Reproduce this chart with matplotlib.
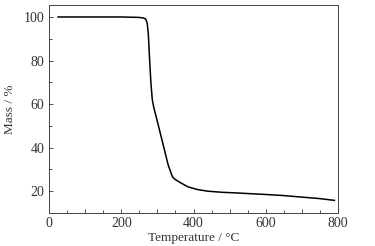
import matplotlib
matplotlib.use("Agg")
import matplotlib.pyplot as plt
from matplotlib.ticker import MultipleLocator, FuncFormatter

temperature = [25, 100, 200, 250, 262, 268, 272, 275, 278, 282, 286, 290, 300, 315, 330, 342, 350, 365, 385, 410, 440, 480, 520, 600, 650, 700, 750, 790]
mass = [100, 100, 100, 99.8, 99.5, 99.0, 97.0, 92.0, 82.0, 70.0, 62.0, 58.5, 52.0, 42.0, 32.0, 26.5, 25.3, 23.8, 22.0, 20.8, 20.0, 19.5, 19.2, 18.5, 18.0, 17.3, 16.6, 15.8]

plt.rcParams['font.family'] = ['Liberation Serif', 'DejaVu Serif']
fig = plt.figure(figsize=(3.75, 2.46), dpi=100)
ax = fig.add_axes([49/375, 1-213/246, (338-49)/375, (213-5)/246])
ax.plot(temperature, mass, color='black', lw=1.1)
ax.set_xlim(0, 800)
ax.set_ylim(10, 105.5)
ax.xaxis.set_major_locator(MultipleLocator(100))
ax.xaxis.set_minor_locator(MultipleLocator(50))
ax.xaxis.set_major_formatter(FuncFormatter(lambda v, p: f"{int(v)}" if int(v) % 200 == 0 else ""))
ax.yaxis.set_major_locator(MultipleLocator(20))
ax.yaxis.set_minor_locator(MultipleLocator(10))
ax.tick_params(which='both', direction='in', labelsize=10, width=0.6, colors='#333333')
ax.tick_params(which='major', length=3)
ax.tick_params(which='minor', length=2)
ax.tick_params(axis='x', pad=3)
for s in ax.spines.values():
    s.set_linewidth(0.7)
    s.set_color('#444444')
ax.set_xlabel('Temperature / °C', fontsize=9.5, labelpad=1, color='#333333')
ax.set_ylabel('Mass / %', fontsize=9.5, labelpad=5, color='#333333')
fig.savefig('out.png', dpi=100)
